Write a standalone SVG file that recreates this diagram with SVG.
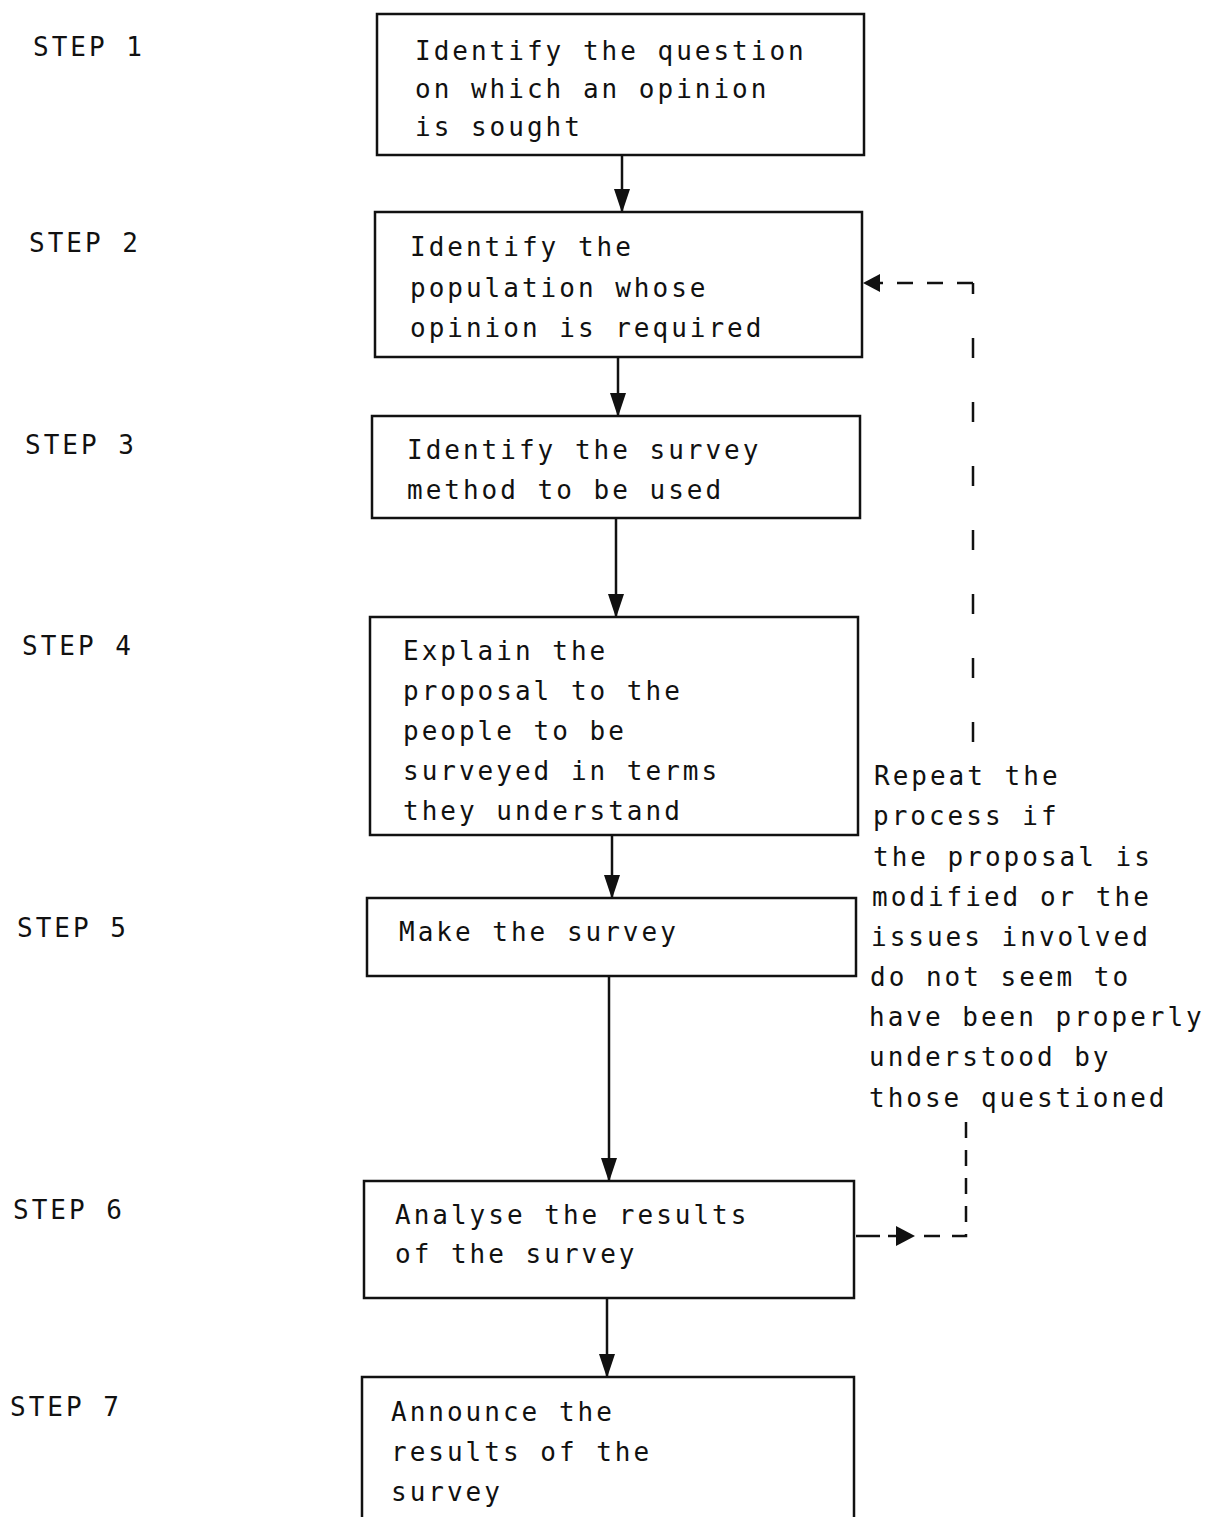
<svg xmlns="http://www.w3.org/2000/svg" width="1207" height="1517" viewBox="0 0 1207 1517">
<style>
text{font-family:"DejaVu Sans Mono","Liberation Mono",monospace;font-size:26px;letter-spacing:3px;fill:#111}
.box{fill:#fff;stroke:#111;stroke-width:2.5}
.flow{fill:none;stroke:#111;stroke-width:2.5}
.dash{fill:none;stroke:#111;stroke-width:2.5}
</style>
<defs>
<marker id="ah" viewBox="0 0 24 16" refX="23" refY="8" markerWidth="24" markerHeight="16" markerUnits="userSpaceOnUse" orient="auto">
<path d="M0,0 L24,8 L0,16 Z" fill="#111"/>
</marker>
<path id="headR" d="M-14,-10 L5,0 L-14,10 Z" fill="#111"/>
</defs>
<rect width="1207" height="1517" fill="#fff"/>
<g id="labels">
<text x="33" y="56">STEP 1</text>
<text x="29" y="252">STEP 2</text>
<text x="25" y="454">STEP 3</text>
<text x="22" y="655">STEP 4</text>
<text x="17" y="937">STEP 5</text>
<text x="13" y="1219">STEP 6</text>
<text x="10" y="1416">STEP 7</text>
</g>
<g id="connectors">
<path class="flow" d="M622,155 V212" marker-end="url(#ah)"/>
<path class="flow" d="M618,357 V416" marker-end="url(#ah)"/>
<path class="flow" d="M616,518 V617" marker-end="url(#ah)"/>
<path class="flow" d="M612,835 V898" marker-end="url(#ah)"/>
<path class="flow" d="M609,976 V1181" marker-end="url(#ah)"/>
<path class="flow" d="M607,1298 V1377" marker-end="url(#ah)"/>
<path class="dash" d="M973,742 V283" stroke-dasharray="20 44"/>
<path class="dash" d="M973,283 H880" stroke-dasharray="16 14"/>
<path d="M863,283 L880,274 L880,292 Z" fill="#111"/>
<path class="dash" d="M856,1236 H880"/>
<path class="dash" d="M888,1236 H900"/>
<use href="#headR" x="910" y="1236"/>
<path class="dash" d="M924,1236 H966 V1112" stroke-dasharray="16 12"/>
</g>
<g id="node1">
<rect class="box" x="377" y="14" width="487" height="141"/>
<text x="415" y="60">Identify the question</text>
<text x="415" y="98">on which an opinion</text>
<text x="415" y="136">is sought</text>
</g>
<g id="node2">
<rect class="box" x="375" y="212" width="487" height="145"/>
<text x="410" y="256">Identify the</text>
<text x="410" y="297">population whose</text>
<text x="410" y="337">opinion is required</text>
</g>
<g id="node3">
<rect class="box" x="372" y="416" width="488" height="102"/>
<text x="407" y="459">Identify the survey</text>
<text x="407" y="499">method to be used</text>
</g>
<g id="node4">
<rect class="box" x="370" y="617" width="488" height="218"/>
<text x="403" y="660">Explain the</text>
<text x="403" y="700">proposal to the</text>
<text x="403" y="740">people to be</text>
<text x="403" y="780">surveyed in terms</text>
<text x="403" y="820">they understand</text>
</g>
<g id="node5">
<rect class="box" x="367" y="898" width="489" height="78"/>
<text x="399" y="941">Make the survey</text>
</g>
<g id="node6">
<rect class="box" x="364" y="1181" width="490" height="117"/>
<text x="395" y="1224">Analyse the results</text>
<text x="395" y="1263">of the survey</text>
</g>
<g id="node7">
<rect class="box" x="362" y="1377" width="492" height="150"/>
<text x="391" y="1421">Announce the</text>
<text x="391" y="1461">results of the</text>
<text x="391" y="1501">survey</text>
</g>
<g id="note">
<text x="874" y="785">Repeat the</text>
<text x="873" y="825">process if</text>
<text x="873" y="866">the proposal is</text>
<text x="872" y="906">modified or the</text>
<text x="871" y="946">issues involved</text>
<text x="870" y="986">do not seem to</text>
<text x="869" y="1026">have been properly</text>
<text x="869" y="1066">understood by</text>
<text x="869" y="1107">those questioned</text>
</g>
</svg>
